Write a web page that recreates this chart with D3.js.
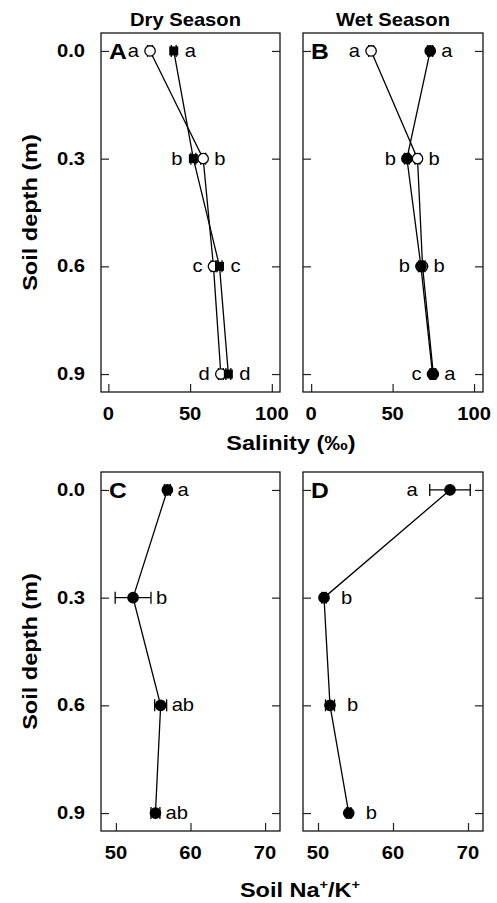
<!DOCTYPE html>
<html><head><meta charset="utf-8">
<script src="https://cdn.jsdelivr.net/npm/d3@7"></script>
<style>body{margin:0;background:#fff}svg{display:block}text{font-family:"Liberation Sans",Arial,Helvetica,sans-serif}</style>
</head><body><svg id="c" width="497" height="903"></svg>
<script>
// ---- data ----
const depths = [0.0, 0.3, 0.6, 0.9];
const depthLabels = ["0.0", "0.3", "0.6", "0.9"];
const salTicks = [0, 50, 100];
const naTicks = [50, 60, 70];

// Panel A: dry season salinity
const dryClosed = [40, 52, 68, 73.4];
const dryClosedErr = [1.5, 1.5, 1.5, 1.5];
const dryClosedLetters = ["a", "b", "c", "d"];
const dryOpen = [25.5, 58, 64.3, 68.8];
const dryOpenErr = [1.5, 1.5, 1.5, 1.5];
const dryOpenLetters = ["a", "b", "c", "d"];

// Panel B: wet season salinity
const wetClosed = [73.1, 58.8, 67.4, 74.5];
const wetClosedErr = [1.5, 1.5, 1.5, 1.5];
const wetClosedLetters = ["a", "b", "b", "a"];
const wetOpen = [36.8, 65.3, 68.4, 75];
const wetOpenErr = [1.5, 1.5, 1.5, 1.5];
const wetOpenLetters = ["a", "b", "b", "c"];

// Panel C: dry season Na+/K+
const dryNaK = [56.9, 52.3, 56.0, 55.3];
const dryNaKErr = [0.4, 2.4, 0.8, 0.6];
const dryNaKLetters = ["a", "b", "ab", "ab"];

// Panel D: wet season Na+/K+
const wetNaK = [67.6, 50.8, 51.6, 54.1];
const wetNaKErr = [2.7, 0.3, 0.6, 0.3];
const wetNaKLetters = ["a", "b", "b", "b"];

// ---- drawing ----
const svg = d3.select("#c");
const colL = [101, 280], colR = [303, 483];
const rowT = [33, 392], rowB = [472, 831];
const SX = 1.12; // horizontal text stretch of the original figure

function panel(opts) {
  const {xr, yr, domain, ticks, series, letter, gap} = opts;
  const x = d3.scaleLinear().domain(domain).range(xr);
  const y = d3.scaleLinear().domain([-0.05, 0.95]).range(yr);
  const g = svg.append("g");
  g.append("rect").attr("x", xr[0]).attr("y", yr[0]).attr("width", xr[1]-xr[0]).attr("height", yr[1]-yr[0])
    .attr("fill", "none").attr("stroke", "#000").attr("stroke-width", 1.2);
  const ax = g.append("g").attr("transform", `translate(0,${yr[1]})`)
    .call(d3.axisTop(x).tickValues(ticks).tickSize(8).tickFormat(""));
  ax.select(".domain").remove();
  const ayl = g.append("g").attr("transform", `translate(${xr[0]},0)`)
    .call(d3.axisRight(y).tickValues(depths).tickSize(8).tickFormat(""));
  ayl.select(".domain").remove();
  const ayr = g.append("g").attr("transform", `translate(${xr[1]},0)`)
    .call(d3.axisLeft(y).tickValues(depths).tickSize(8).tickFormat(""));
  ayr.select(".domain").remove();
  g.selectAll(".tick line").attr("stroke", "#222").attr("stroke-width", 1.2);
  g.selectAll(null).data(ticks).join("text")
    .attr("x", d => x(d)).attr("y", yr[1] + 28).attr("text-anchor", "middle")
    .attr("font-weight", "bold").attr("font-size", 18).text(d => d);
  g.append("text").attr("x", xr[0] + 8).attr("y", y(0) + 8).attr("font-weight", "bold")
    .attr("font-size", 22).text(letter);
  const mk = s => depths.map((d, i) => ({d, v: s.vals[i], e: s.err[i]}));
  series.forEach(s => {
    const line = d3.line().x(d => x(d.v)).y(d => y(d.d));
    g.append("path").datum(mk(s)).attr("d", line).attr("fill", "none").attr("stroke", "#000").attr("stroke-width", 1.3);
  });
  series.forEach(s => {
    const pts = mk(s);
    const eb = g.append("g").attr("stroke", "#000").attr("stroke-width", 1.3);
    pts.forEach(p => {
      const yy = y(p.d), x0 = x(p.v - p.e), x1 = x(p.v + p.e);
      eb.append("line").attr("x1", x0).attr("x2", x1).attr("y1", yy).attr("y2", yy);
      eb.append("line").attr("x1", x0).attr("x2", x0).attr("y1", yy - 6).attr("y2", yy + 6);
      eb.append("line").attr("x1", x1).attr("x2", x1).attr("y1", yy - 6).attr("y2", yy + 6);
    });
    if (s.shape === "square") {
      g.selectAll(null).data(pts).join("rect")
        .attr("x", p => x(p.v) - 4.5).attr("y", p => y(p.d) - 4.5).attr("width", 9).attr("height", 9)
        .attr("fill", "#000");
    } else {
      g.selectAll(null).data(pts).join("circle")
        .attr("cx", p => x(p.v)).attr("cy", p => y(p.d)).attr("r", 5.2)
        .attr("fill", s.fill).attr("stroke", "#000").attr("stroke-width", 1.3);
    }
  });
  depths.forEach((d, i) => {
    const lefts = series.map(s => Math.min(x(s.vals[i]) - 5, x(s.vals[i] - s.err[i])));
    const rights = series.map(s => Math.max(x(s.vals[i]) + 5, x(s.vals[i] + s.err[i])));
    series.forEach(s => {
      const lt = s.letters[i];
      const side = s.sides[i];
      g.append("text").attr("x", side === "left" ? d3.min(lefts) - gap : d3.max(rights) + gap)
        .attr("y", y(d) + 6).attr("text-anchor", side === "left" ? "end" : "start")
        .attr("font-size", 18).text(lt);
    });
  });
}

const L = "left", R = "right";
panel({xr: colL, yr: rowT, domain: [-4.5, 105], ticks: salTicks, letter: "A", gap: 6,
  series: [
    {vals: dryOpen, err: dryOpenErr, letters: dryOpenLetters, shape: "circle", fill: "#fff", sides: [L, L, L, L]},
    {vals: dryClosed, err: dryClosedErr, letters: dryClosedLetters, shape: "square", sides: [R, R, R, R]}
  ]});
panel({xr: colR, yr: rowT, domain: [-5, 105.5], ticks: salTicks, letter: "B", gap: 6,
  series: [
    {vals: wetOpen, err: wetOpenErr, letters: wetOpenLetters, shape: "circle", fill: "#fff", sides: [L, L, L, L]},
    {vals: wetClosed, err: wetClosedErr, letters: wetClosedLetters, shape: "circle", fill: "#000", sides: [R, R, R, R]}
  ]});
panel({xr: colL, yr: rowB, domain: [48, 72], ticks: naTicks, letter: "C", gap: 5,
  series: [
    {vals: dryNaK, err: dryNaKErr, letters: dryNaKLetters, shape: "circle", fill: "#000", sides: [R, R, R, R]}
  ]});
panel({xr: colR, yr: rowB, domain: [48, 72], ticks: naTicks, letter: "D", gap: 12,
  series: [
    {vals: wetNaK, err: wetNaKErr, letters: wetNaKLetters, shape: "circle", fill: "#000", sides: [L, R, R, R]}
  ]});

[rowT, rowB].forEach(yr => {
  const y = d3.scaleLinear().domain([-0.05, 0.95]).range(yr);
  svg.selectAll(null).data(depths).join("text")
    .attr("x", 85).attr("y", d => y(d) + 6).attr("text-anchor", "end")
    .attr("font-weight", "bold").attr("font-size", 18).text((d, i) => depthLabels[i]);
});

svg.append("text").attr("x", (colL[0] + colL[1]) / 2 - 5).attr("y", 26).attr("text-anchor", "middle")
  .attr("font-weight", "bold").attr("font-size", 18).text("Dry Season");
svg.append("text").attr("x", (colR[0] + colR[1]) / 2).attr("y", 26).attr("text-anchor", "middle")
  .attr("font-weight", "bold").attr("font-size", 18).text("Wet Season");
svg.append("text").attr("x", 291).attr("y", 450).attr("text-anchor", "middle")
  .attr("font-weight", "bold").attr("font-size", 21).text("Salinity (‰)");
const nk = svg.append("text").attr("x", 300).attr("y", 897).attr("text-anchor", "middle")
  .attr("font-weight", "bold").attr("font-size", 21);
nk.append("tspan").text("Soil Na");
nk.append("tspan").attr("dy", -8).attr("font-size", 13).text("+");
nk.append("tspan").attr("dy", 8).text("/K");
nk.append("tspan").attr("dy", -8).attr("font-size", 13).text("+");

// apply horizontal stretch to all plain texts
svg.selectAll("text").each(function () {
  const t = d3.select(this);
  const x = +t.attr("x"), y = +t.attr("y");
  t.attr("x", null).attr("y", null).attr("transform", `translate(${x},${y}) scale(${SX},1)`);
});

// rotated axis titles
[rowT, rowB].forEach(yr => {
  svg.append("text").attr("transform", `translate(37,${(yr[0] + yr[1]) / 2}) rotate(-90) scale(${SX},1)`)
    .attr("text-anchor", "middle").attr("font-weight", "bold").attr("font-size", 21).text("Soil depth (m)");
});
</script></body></html>
